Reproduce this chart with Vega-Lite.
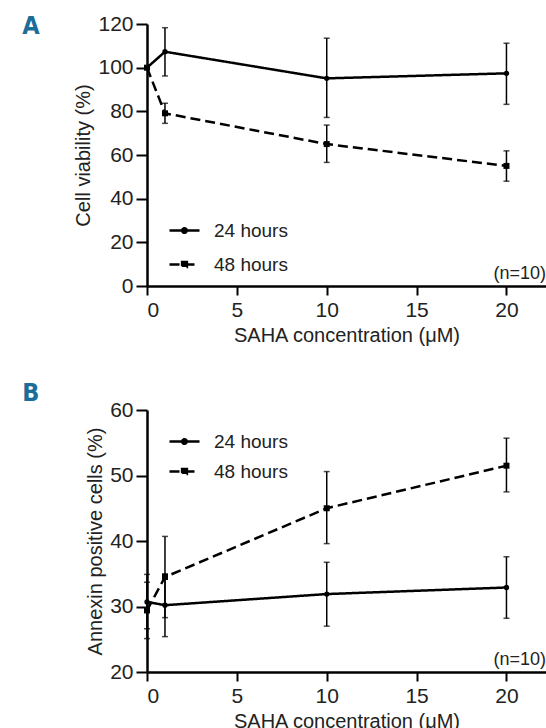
{
  "$schema": "https://vega.github.io/schema/vega-lite/v6.json",
  "background": "white",
  "padding": {"left": 22, "top": 13, "right": 0, "bottom": 0},
  "datasets": {
    "viability": [
      {"series": "24 hours", "conc": 0, "mean": 100, "lo": null, "hi": null},
      {"series": "24 hours", "conc": 1, "mean": 107.3, "lo": 96.2, "hi": 118.3},
      {"series": "24 hours", "conc": 10, "mean": 95.1, "lo": 77.2, "hi": 113.5},
      {"series": "24 hours", "conc": 20, "mean": 97.4, "lo": 83.2, "hi": 111.2},
      {"series": "48 hours", "conc": 0, "mean": 100, "lo": null, "hi": null},
      {"series": "48 hours", "conc": 1, "mean": 79.1, "lo": 74.5, "hi": 83.7},
      {"series": "48 hours", "conc": 10, "mean": 65.0, "lo": 56.6, "hi": 73.7},
      {"series": "48 hours", "conc": 20, "mean": 55.0, "lo": 48.0, "hi": 61.9}
    ],
    "annexin": [
      {"series": "24 hours", "conc": 0, "mean": 30.7, "lo": 26.6, "hi": 34.9},
      {"series": "24 hours", "conc": 1, "mean": 30.2, "lo": 25.4, "hi": 35.0},
      {"series": "24 hours", "conc": 10, "mean": 31.9, "lo": 27.0, "hi": 36.75},
      {"series": "24 hours", "conc": 20, "mean": 32.9, "lo": 28.2, "hi": 37.6},
      {"series": "48 hours", "conc": 0, "mean": 29.4, "lo": 25.1, "hi": 33.7},
      {"series": "48 hours", "conc": 1, "mean": 34.5, "lo": 28.3, "hi": 40.7},
      {"series": "48 hours", "conc": 10, "mean": 45.0, "lo": 39.6, "hi": 50.6},
      {"series": "48 hours", "conc": 20, "mean": 51.5, "lo": 47.5, "hi": 55.7}
    ],
    "note": [{"label": "(n=10)"}],
    "panelA": [{"label": "A"}],
    "panelB": [{"label": "B"}]
  },
  "config": {
    "font": "Liberation Sans",
    "view": {"stroke": null},
    "axis": {
      "grid": false,
      "domainColor": "black",
      "domainWidth": 2.5,
      "tickColor": "black",
      "tickWidth": 2,
      "labelFontSize": 21,
      "titleFontSize": 20,
      "titleFontWeight": "normal",
      "labelColor": "#222222",
      "titleColor": "#222222"
    },
    "axisX": {"tickSize": 9, "labelPadding": 4, "titlePadding": 5},
    "axisY": {"tickSize": 11, "labelPadding": 3, "titlePadding": 4},
    "legend": {
      "labelFontSize": 19,
      "labelColor": "#222222",
      "labelOffset": 13,
      "symbolSize": 900,
      "symbolStrokeWidth": 2.5,
      "symbolStrokeColor": "black",
      "symbolFillColor": "black",
      "padding": 0,
      "title": null
    },
    "concat": {"spacing": 35}
  },
  "resolve": {"scale": {"strokeDash": "independent"}, "legend": {"strokeDash": "independent"}},
  "vconcat": [
    {
      "width": 399,
      "height": 262,
      "layer": [
        {
          "data": {"name": "viability"},
          "mark": {"type": "line", "strokeWidth": 2.5, "color": "black"},
          "encoding": {
            "x": {"field": "conc", "type": "quantitative", "scale": {"domain": [0, 22.2], "nice": false}, "axis": {"values": [0, 5, 10, 15, 20], "title": "SAHA concentration (μM)"}},
            "y": {"field": "mean", "type": "quantitative", "scale": {"domain": [0, 120], "nice": false}, "axis": {"values": [0, 20, 40, 60, 80, 100, 120], "title": "Cell viability (%)"}},
            "strokeDash": {
              "field": "series", "type": "nominal",
              "scale": {"domain": ["24 hours", "48 hours"], "range": [[1, 0], [10, 5]]},
              "legend": {
                "orient": "none", "legendX": 21, "legendY": 190, "rowPadding": 7,
                "encode": {"symbols": {"update": {"shape": {"signal": "datum.value === '24 hours' ? 'M-1,0H1M0.15,0A0.15,0.15 0 1,1 -0.15,0A0.15,0.15 0 1,1 0.15,0Z' : 'M-1,0H1M-0.16,-0.16H0.16V0.16H-0.16Z'"}}}}
              }
            }
          }
        },
        {
          "data": {"name": "viability"},
          "mark": {"type": "rule", "strokeWidth": 1.5, "color": "black"},
          "encoding": {"x": {"field": "conc", "type": "quantitative"}, "y": {"field": "lo", "type": "quantitative"}, "y2": {"field": "hi"}}
        },
        {
          "data": {"name": "viability"},
          "mark": {"type": "tick", "orient": "horizontal", "size": 6, "thickness": 1.5, "color": "black"},
          "encoding": {"x": {"field": "conc", "type": "quantitative"}, "y": {"field": "lo", "type": "quantitative"}}
        },
        {
          "data": {"name": "viability"},
          "mark": {"type": "tick", "orient": "horizontal", "size": 6, "thickness": 1.5, "color": "black"},
          "encoding": {"x": {"field": "conc", "type": "quantitative"}, "y": {"field": "hi", "type": "quantitative"}}
        },
        {
          "data": {"name": "viability"},
          "transform": [{"filter": "datum.series === '24 hours'"}],
          "mark": {"type": "point", "filled": true, "color": "black", "opacity": 1, "size": 28, "shape": "circle"},
          "encoding": {"x": {"field": "conc", "type": "quantitative"}, "y": {"field": "mean", "type": "quantitative"}}
        },
        {
          "data": {"name": "viability"},
          "transform": [{"filter": "datum.series === '48 hours'"}],
          "mark": {"type": "point", "filled": true, "color": "black", "opacity": 1, "size": 36, "shape": "square"},
          "encoding": {"x": {"field": "conc", "type": "quantitative"}, "y": {"field": "mean", "type": "quantitative"}}
        },
        {
          "data": {"name": "note"},
          "mark": {"type": "text", "align": "right", "baseline": "bottom", "fontSize": 18, "dy": -3, "color": "#222222"},
          "encoding": {"x": {"datum": 22.2}, "y": {"datum": 0}, "text": {"field": "label"}}
        },
        {
          "data": {"name": "panelA"},
          "mark": {"type": "text", "align": "left", "baseline": "alphabetic", "fontSize": 25, "fontWeight": "bold", "color": "#1d6d9b", "font": "DejaVu Sans Condensed, Liberation Sans"},
          "encoding": {"x": {"datum": -6.94}, "y": {"datum": 115.6}, "text": {"field": "label"}}
        }
      ]
    },
    {
      "width": 399,
      "height": 262,
      "layer": [
        {
          "data": {"name": "annexin"},
          "mark": {"type": "line", "strokeWidth": 2.5, "color": "black"},
          "encoding": {
            "x": {"field": "conc", "type": "quantitative", "scale": {"domain": [0, 22.2], "nice": false}, "axis": {"values": [0, 5, 10, 15, 20], "title": "SAHA concentration (μM)"}},
            "y": {"field": "mean", "type": "quantitative", "scale": {"domain": [20, 60], "nice": false, "zero": false}, "axis": {"values": [20, 30, 40, 50, 60], "title": "Annexin positive cells (%)"}},
            "strokeDash": {
              "field": "series", "type": "nominal",
              "scale": {"domain": ["24 hours", "48 hours"], "range": [[1, 0], [10, 5]]},
              "legend": {
                "orient": "none", "legendX": 21, "legendY": 15, "rowPadding": 3,
                "encode": {"symbols": {"update": {"shape": {"signal": "datum.value === '24 hours' ? 'M-1,0H1M0.15,0A0.15,0.15 0 1,1 -0.15,0A0.15,0.15 0 1,1 0.15,0Z' : 'M-1,0H1M-0.16,-0.16H0.16V0.16H-0.16Z'"}}}}
              }
            }
          }
        },
        {
          "data": {"name": "annexin"},
          "mark": {"type": "rule", "strokeWidth": 1.5, "color": "black"},
          "encoding": {"x": {"field": "conc", "type": "quantitative"}, "y": {"field": "lo", "type": "quantitative"}, "y2": {"field": "hi"}}
        },
        {
          "data": {"name": "annexin"},
          "mark": {"type": "tick", "orient": "horizontal", "size": 6, "thickness": 1.5, "color": "black"},
          "encoding": {"x": {"field": "conc", "type": "quantitative"}, "y": {"field": "lo", "type": "quantitative"}}
        },
        {
          "data": {"name": "annexin"},
          "mark": {"type": "tick", "orient": "horizontal", "size": 6, "thickness": 1.5, "color": "black"},
          "encoding": {"x": {"field": "conc", "type": "quantitative"}, "y": {"field": "hi", "type": "quantitative"}}
        },
        {
          "data": {"name": "annexin"},
          "transform": [{"filter": "datum.series === '24 hours'"}],
          "mark": {"type": "point", "filled": true, "color": "black", "opacity": 1, "size": 28, "shape": "circle"},
          "encoding": {"x": {"field": "conc", "type": "quantitative"}, "y": {"field": "mean", "type": "quantitative"}}
        },
        {
          "data": {"name": "annexin"},
          "transform": [{"filter": "datum.series === '48 hours'"}],
          "mark": {"type": "point", "filled": true, "color": "black", "opacity": 1, "size": 36, "shape": "square"},
          "encoding": {"x": {"field": "conc", "type": "quantitative"}, "y": {"field": "mean", "type": "quantitative"}}
        },
        {
          "data": {"name": "note"},
          "mark": {"type": "text", "align": "right", "baseline": "bottom", "fontSize": 18, "dy": -3, "color": "#222222"},
          "encoding": {"x": {"datum": 22.2}, "y": {"datum": 20}, "text": {"field": "label"}}
        },
        {
          "data": {"name": "panelB"},
          "mark": {"type": "text", "align": "left", "baseline": "alphabetic", "fontSize": 25, "fontWeight": "bold", "color": "#1d6d9b", "font": "DejaVu Sans Condensed, Liberation Sans"},
          "encoding": {"x": {"datum": -6.94}, "y": {"datum": 61.45}, "text": {"field": "label"}}
        }
      ]
    }
  ]
}
